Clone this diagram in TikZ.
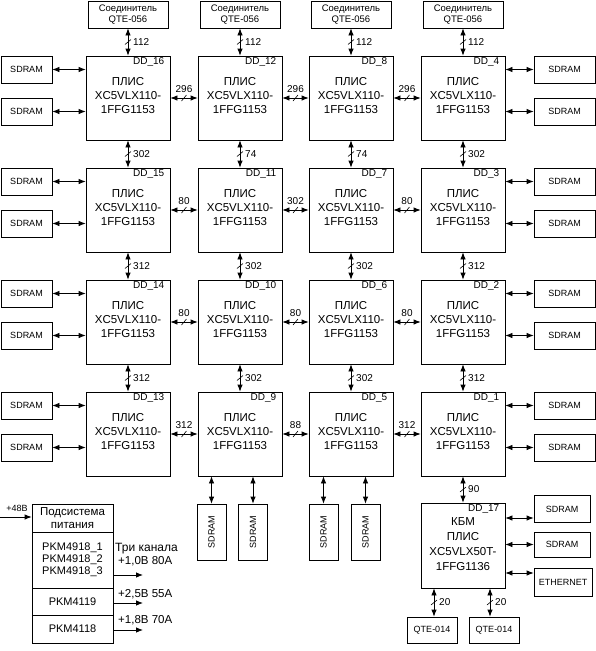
\documentclass[tikz,border=0pt]{standalone}
\usepackage{fontspec}
\setmainfont{Liberation Sans}
\usetikzlibrary{arrows.meta}
\tikzset{
  ln/.style={line width=0.8pt},
  fpga/.style={draw, ln, minimum width=84pt, minimum height=84pt, inner sep=0pt},
  chip/.style={align=center, font=\fontsize{11.5}{14}\selectfont, inner sep=0pt},
  ddl/.style={font=\fontsize{10}{11}\selectfont, inner sep=0pt, anchor=east},
  sd/.style={draw, ln, minimum width=51pt, minimum height=27pt, inner sep=0pt, font=\fontsize{9}{10}\selectfont},
  sdr/.style={sd, minimum width=61pt},
  sdv/.style={draw, ln, minimum width=29pt, minimum height=56pt, inner sep=0pt},
  conn/.style={draw, ln, minimum width=80pt, minimum height=27pt, inner sep=0pt, align=center, font=\fontsize{9.5}{11}\selectfont},
  num/.style={font=\fontsize{10}{10}\selectfont, inner sep=0pt},
  pwr/.style={draw, ln, minimum width=81pt, inner sep=0pt, align=center, font=\fontsize{11}{12.5}\selectfont},
  plab/.style={font=\fontsize{11.5}{11}\selectfont, inner sep=0pt, anchor=west},
  bi/.style={ln, {Latex[length=7pt,width=5.5pt]}-{Latex[length=7pt,width=5.5pt]}},
  uni/.style={ln, -{Latex[length=7pt,width=5.5pt]}},
  sl/.style={line width=0.6pt},
}
\newcommand\mkfpga[4]{%
  \node[fpga] (#1) at (#2,#3) {};
  \node[ddl] (#1d) at ([xshift=-6pt,yshift=-6pt]#1.north east) {DD\_#4};
  \node[chip] (#1t) at ([yshift=2pt]#1.center) {ПЛИС\\XC5VLX110-\\1FFG1153};
}
\newcommand\busH[3]{%
  \draw[bi] (#1.east) -- coordinate[midway] (#1#2m) (#2.west);
  \draw[sl] ([shift={(-2.5,3)}]#1#2m) -- ([shift={(2.5,-3)}]#1#2m);
  \node[num] (#1#2n) at ([yshift=9pt]#1#2m) {#3};
}
\newcommand\busV[3]{%
  \draw[bi] (#1.south) -- coordinate[midway] (#1#2m) (#2.north);
  \draw[sl] ([shift={(-3,2.5)}]#1#2m) -- ([shift={(3,-2.5)}]#1#2m);
  \node[num, anchor=west] (#1#2n) at ([xshift=5pt]#1#2m) {#3};
}
\begin{document}
\begin{tikzpicture}[x=1pt,y=-1pt]
\useasboundingbox (0,0) rectangle (596,651);
% FPGA grid
\mkfpga{f16}{128}{98}{16}  \mkfpga{f12}{240}{98}{12}  \mkfpga{f8}{351}{98}{8}  \mkfpga{f4}{463}{98}{4}
\mkfpga{f15}{128}{210}{15} \mkfpga{f11}{240}{210}{11} \mkfpga{f7}{351}{210}{7} \mkfpga{f3}{463}{210}{3}
\mkfpga{f14}{128}{322}{14} \mkfpga{f10}{240}{322}{10} \mkfpga{f6}{351}{322}{6} \mkfpga{f2}{463}{322}{2}
\mkfpga{f13}{128}{434}{13} \mkfpga{f9}{240}{434}{9}   \mkfpga{f5}{351}{434}{5} \mkfpga{f1}{463}{434}{1}
% top connectors
\node[conn] (c1) at (128,14.5) {Соединитель\\QTE-056};
\node[conn] (c2) at (240,14.5) {Соединитель\\QTE-056};
\node[conn] (c3) at (351,14.5) {Соединитель\\QTE-056};
\node[conn] (c4) at (463,14.5) {Соединитель\\QTE-056};
\busV{c1}{f16}{112} \busV{c2}{f12}{112} \busV{c3}{f8}{112} \busV{c4}{f4}{112}
% horizontal buses
\busH{f16}{f12}{296} \busH{f12}{f8}{296} \busH{f8}{f4}{296}
\busH{f15}{f11}{80}  \busH{f11}{f7}{302} \busH{f7}{f3}{80}
\busH{f14}{f10}{80}  \busH{f10}{f6}{80}  \busH{f6}{f2}{80}
\busH{f13}{f9}{312}  \busH{f9}{f5}{88}   \busH{f5}{f1}{312}
% vertical buses
\busV{f16}{f15}{302} \busV{f15}{f14}{312} \busV{f14}{f13}{312}
\busV{f12}{f11}{74}  \busV{f11}{f10}{302} \busV{f10}{f9}{302}
\busV{f8}{f7}{74}    \busV{f7}{f6}{302}   \busV{f6}{f5}{302}
\busV{f4}{f3}{302}   \busV{f3}{f2}{312}   \busV{f2}{f1}{312}
% left and right SDRAMs
\foreach \r/\t in {1/56,2/168,3/280,4/392}{
  \node[sd] (sl\r a) at (26.5,\t+13.5) {SDRAM};
  \node[sd] (sl\r b) at (26.5,\t+55.5) {SDRAM};
  \node[sdr] (sr\r a) at (564.5,\t+13.5) {SDRAM};
  \node[sdr] (sr\r b) at (564.5,\t+55.5) {SDRAM};
}
\foreach \r/\a/\b in {1/f16/f4,2/f15/f3,3/f14/f2,4/f13/f1}{
  \draw[bi] (sl\r a.east) -- (\a.west |- sl\r a.east);
  \draw[bi] (sl\r b.east) -- (\a.west |- sl\r b.east);
  \draw[bi] (sr\r a.west) -- (\b.east |- sr\r a.west);
  \draw[bi] (sr\r b.west) -- (\b.east |- sr\r b.west);
}
% bottom vertical SDRAMs
\node[sdv] (b1) at (211.5,532) {}; \node[font=\fontsize{9}{10}\selectfont, rotate=90] (b1t) at (b1) {SDRAM};
\node[sdv] (b2) at (253,532) {};   \node[font=\fontsize{9}{10}\selectfont, rotate=90] (b2t) at (b2) {SDRAM};
\node[sdv] (b3) at (323.5,532) {}; \node[font=\fontsize{9}{10}\selectfont, rotate=90] (b3t) at (b3) {SDRAM};
\node[sdv] (b4) at (365.5,532) {}; \node[font=\fontsize{9}{10}\selectfont, rotate=90] (b4t) at (b4) {SDRAM};
\draw[bi] (f9.south -| b1.north) -- (b1.north);
\draw[bi] (f9.south -| b2.north) -- (b2.north);
\draw[bi] (f5.south -| b3.north) -- (b3.north);
\draw[bi] (f5.south -| b4.north) -- (b4.north);
% KBM
\node[fpga, minimum height=85pt] (k17) at (463,545.5) {};
\node[ddl] (k17d) at ([xshift=-6pt,yshift=-6pt]k17.north east) {DD\_17};
\node[chip, font=\fontsize{11.5}{15}\selectfont] (k17t) at ([yshift=1pt]k17.center) {КБМ\\ПЛИС\\XC5VLX50T-\\1FFG1136};
\busV{f1}{k17}{90}
\node[sd, minimum width=56pt] (ks1) at (562,509) {SDRAM};
\node[sd, minimum width=56pt, minimum height=25pt] (ks2) at (562,544.5) {SDRAM};
\node[sd, minimum width=58pt, minimum height=28pt] (ke) at (563,582) {ETHERNET};
\coordinate (k1) at ([yshift=-9pt]ks1.west);
\coordinate (k2) at (ks2.west);
\coordinate (k3) at ([yshift=9pt]ke.west);
\draw[bi] (k17.east |- k1) -- (k1);
\draw[bi] (k17.east |- k2) -- (k2);
\draw[bi] (k17.east |- k3) -- (k3);
\node[sd, minimum width=50pt, minimum height=26pt] (q1) at (432,630) {QTE-014};
\node[sd, minimum width=50pt, minimum height=26pt] (q2) at (494,630) {QTE-014};
\coordinate (q1t) at ([xshift=2pt]q1.north);
\coordinate (q2t) at ([xshift=-4pt]q2.north);
\draw[bi] (k17.south -| q1t) -- coordinate[midway] (q1m) (q1t);
\draw[sl] ([shift={(-3,2.5)}]q1m) -- ([shift={(3,-2.5)}]q1m);
\node[num, anchor=west] (q1n) at ([xshift=5pt]q1m) {20};
\draw[bi] (k17.south -| q2t) -- coordinate[midway] (q2m) (q2t);
\draw[sl] ([shift={(-3,2.5)}]q2m) -- ([shift={(3,-2.5)}]q2m);
\node[num, anchor=west] (q2n) at ([xshift=5pt]q2m) {20};
% power subsystem
\node[pwr, minimum height=28pt, font=\fontsize{11.5}{13}\selectfont] (pw1) at (72.5,518) {Подсистема\\питания};
\node[pwr, minimum height=56pt, font=\fontsize{11}{12}\selectfont] (pw2) at (72.5,560) {PKM4918\_1\\PKM4918\_2\\PKM4918\_3};
\node[pwr, minimum height=27pt] (pw3) at (72.5,601.5) {PKM4119};
\node[pwr, minimum height=28pt] (pw4) at (72.5,629) {PKM4118};
\coordinate (in48) at (0,517);
\draw[uni] (in48) -- (pw1.west |- in48);
\node[font=\fontsize{9}{9}\selectfont, inner sep=0pt] (l48) at (17,508) {+48В};
\coordinate (o1) at (143,575);
\coordinate (o2) at (143,603);
\coordinate (o3) at (143,630);
\draw[uni] (pw2.east |- o1) -- (o1);
\draw[uni] (pw3.east |- o2) -- (o2);
\draw[uni] (pw4.east |- o3) -- (o3);
\node[plab, font=\fontsize{12}{12}\selectfont] (t0) at (115,549) {Три канала};
\node[plab] (t1) at (118,561) {+1,0В 80А};
\node[plab] (t2) at (118,594) {+2,5В 55А};
\node[plab] (t3) at (118,620) {+1,8В 70А};
\end{tikzpicture}
\end{document}
